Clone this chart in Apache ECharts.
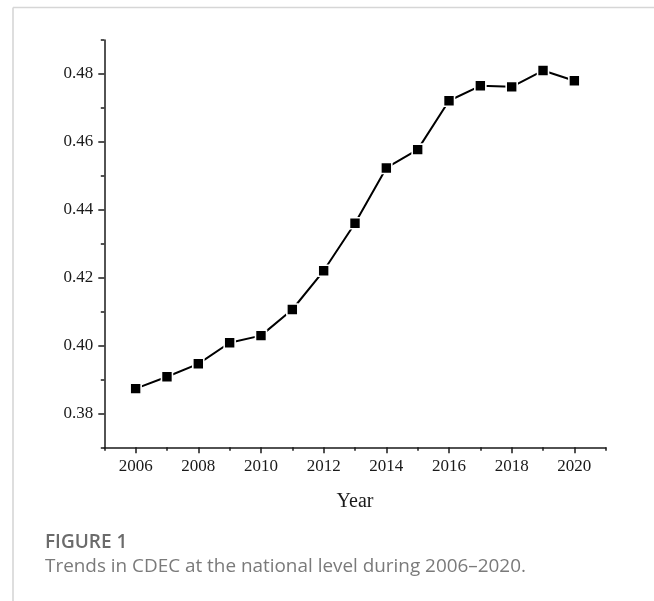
<!DOCTYPE html>
<html>
<head>
<meta charset="utf-8">
<script src="https://cdn.jsdelivr.net/npm/echarts@6/dist/echarts.min.js"></script>
<style>
  html, body { margin: 0; padding: 0; background: #ffffff; }
  #chart { width: 654px; height: 601px; }
</style>
</head>
<body>
<div id="chart"></div>
<script>
// CDEC index, national level, 2006–2020
const years = [2006, 2007, 2008, 2009, 2010, 2011, 2012, 2013, 2014, 2015, 2016, 2017, 2018, 2019, 2020];
const cdec = [0.3873, 0.3908, 0.3946, 0.4008, 0.4029, 0.4106, 0.4220, 0.4360, 0.4523, 0.4577, 0.4721, 0.4765, 0.4762, 0.4810, 0.4780];

// Axis ranges and tick positions
const xRange = [2005, 2021];
const xMajorTicks = [2006, 2008, 2010, 2012, 2014, 2016, 2018, 2020];
const xMinorTicks = [2005, 2007, 2009, 2011, 2013, 2015, 2017, 2019, 2021];
const yRange = [0.37, 0.49];
const yMajorTicks = [0.38, 0.40, 0.42, 0.44, 0.46, 0.48];
const yMinorTicks = [0.37, 0.39, 0.41, 0.43, 0.45, 0.47, 0.49];

const xTitle = 'Year';
const figureTag = 'FIGURE 1';
const figureCaption = 'Trends in CDEC at the national level during 2006\u20132020.';

const serif = '"Liberation Serif", "Times New Roman", serif';
const sans = '"Open Sans", "Noto Sans", sans-serif';
const ink = '#1a1a1a';

const chart = echarts.init(document.getElementById('chart'), null, { renderer: 'canvas' });

const axisLineStyle = { color: ink, width: 1.5 };

chart.setOption({
  animation: false,
  backgroundColor: '#ffffff',
  grid: { left: 104.3, right: 48.3, top: 40, bottom: 153.7, containLabel: false },
  xAxis: [
    {
      type: 'value', min: xRange[0], max: xRange[1], position: 'bottom',
      name: xTitle, nameLocation: 'middle', nameGap: 44,
      nameTextStyle: { fontFamily: serif, fontSize: 20, color: ink },
      axisLine: { show: true, lineStyle: axisLineStyle },
      axisTick: { show: true, length: 6, lineStyle: { color: ink, width: 1.5 }, customValues: xMajorTicks },
      axisLabel: { show: true, margin: 11, fontFamily: serif, fontSize: 17, color: ink, customValues: xMajorTicks, formatter: v => String(v) },
      splitLine: { show: false }
    },
    {
      type: 'value', min: xRange[0], max: xRange[1], position: 'bottom', offset: 0,
      axisLine: { show: false },
      axisTick: { show: true, length: 3.5, lineStyle: { color: ink, width: 1.5 }, customValues: xMinorTicks },
      axisLabel: { show: false },
      splitLine: { show: false }
    }
  ],
  yAxis: [
    {
      type: 'value', min: yRange[0], max: yRange[1], position: 'left',
      axisLine: { show: true, lineStyle: axisLineStyle },
      axisTick: { show: true, length: 6, lineStyle: { color: ink, width: 1.5 }, customValues: yMajorTicks },
      axisLabel: { show: true, margin: 11, fontFamily: serif, fontSize: 17, color: ink, customValues: yMajorTicks, formatter: v => v.toFixed(2) },
      splitLine: { show: false }
    },
    {
      type: 'value', min: yRange[0], max: yRange[1], position: 'left', offset: 0,
      axisLine: { show: false },
      axisTick: { show: true, length: 3.5, lineStyle: { color: ink, width: 1.5 }, customValues: yMinorTicks },
      axisLabel: { show: false },
      splitLine: { show: false }
    }
  ],
  series: [
    {
      type: 'line',
      xAxisIndex: 0, yAxisIndex: 0,
      data: years.map((y, i) => [y, cdec[i]]),
      symbol: 'rect',
      symbolSize: 11,
      showSymbol: true,
      lineStyle: { color: '#000000', width: 2 },
      itemStyle: { color: '#000000', borderColor: '#ffffff', borderWidth: 1.6 },
      z: 5
    }
  ],
  graphic: [
    // light frame along the top and left
    { type: 'line', shape: { x1: 13, y1: 7.5, x2: 654, y2: 7.5 }, style: { stroke: '#d6d6d6', lineWidth: 1.6 }, silent: true },
    { type: 'line', shape: { x1: 13, y1: 7.5, x2: 13, y2: 601 }, style: { stroke: '#d6d6d6', lineWidth: 1.6 }, silent: true },
    { type: 'text', left: 45, top: 533, style: { text: figureTag, font: '600 19px ' + sans, fill: '#6b6b6b' }, silent: true },
    { type: 'text', left: 45, top: 557, style: { text: figureCaption, font: '18.9px ' + sans, fill: '#7a7a7a' }, silent: true }
  ]
});
</script>
</body>
</html>
